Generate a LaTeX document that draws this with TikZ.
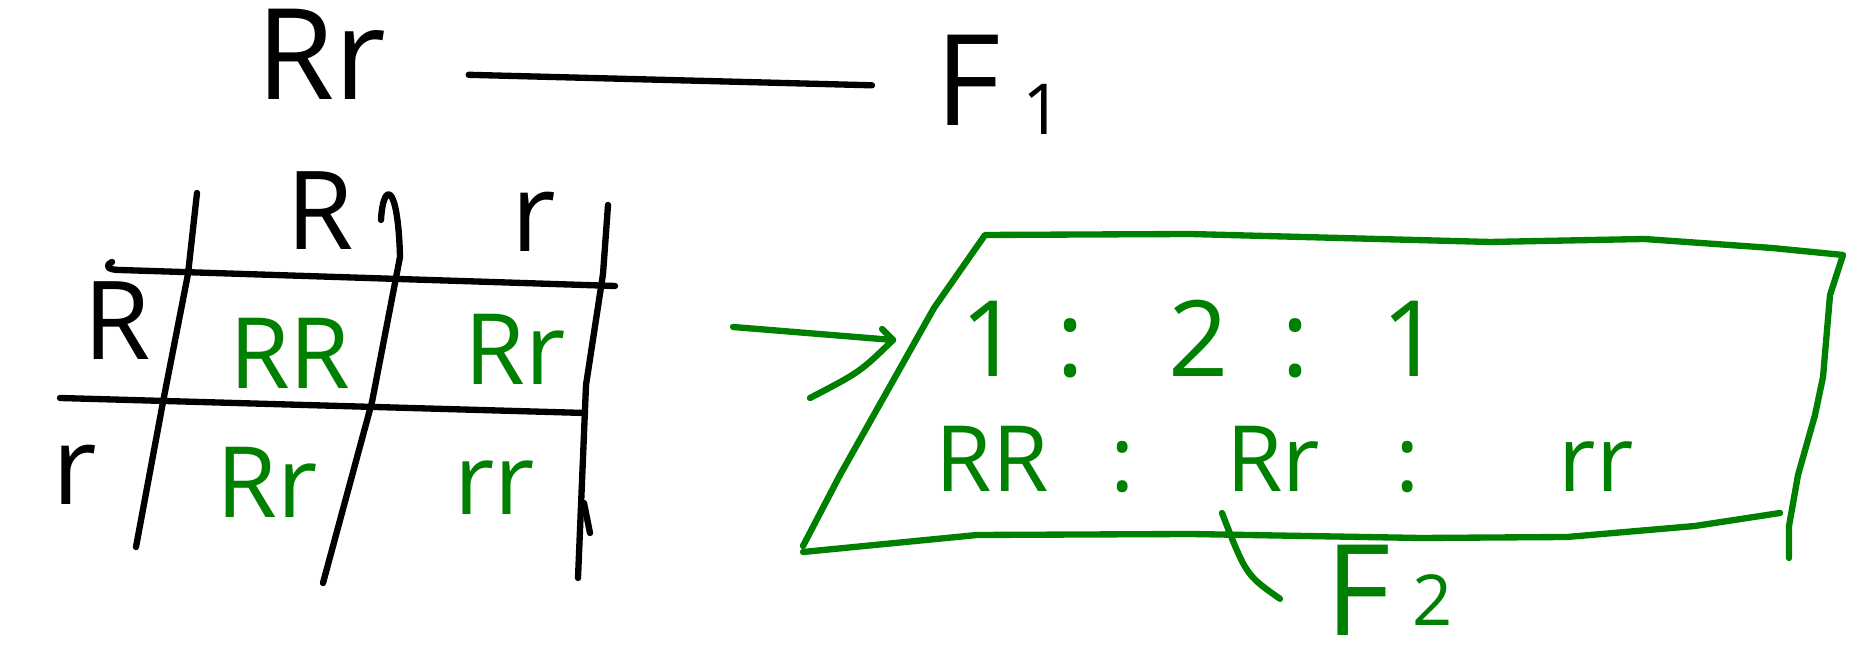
\documentclass[tikz,border=0pt]{standalone}
\usepackage{fontspec}
\setmainfont{Open Sans}
\usetikzlibrary{arrows.meta, positioning}
\definecolor{inkgreen}{RGB}{0,128,0}

\begin{document}
\begin{tikzpicture}[x=0.01cm, y=-0.01cm,
    ink/.style={line width=1.8pt, line cap=round, line join=round},
    gink/.style={ink, draw=inkgreen},
    txt/.style={inner sep=0pt, anchor=base},
    big/.style={txt, font=\fontsize{36}{40}\selectfont},
    head/.style={txt, font=\fontsize{31}{34}\selectfont},
    cell/.style={txt, text=inkgreen, font=\fontsize{28}{30}\selectfont},
    ratio/.style={txt, text=inkgreen, font=\fontsize{30}{32}\selectfont},
    geno/.style={txt, text=inkgreen, font=\fontsize{26}{28}\selectfont},
]
  \useasboundingbox (0,0) rectangle (1861,671);

  % Top: Rr gives F1
  \node[big] (parent) at (321,100) {Rr};
  \node[big, anchor=base west] (f1) at (935,126) {F\,\raisebox{-0.09cm}{\fontsize{20}{22}\selectfont 1}};
  \draw[ink] ([xshift=0.82cm, yshift=-0.2cm]parent.east) -- ([xshift=-0.63cm]f1.west);

  % Punnett square: gametes
  \node[head] (gR) at (320,250) {R};
  \node[head] (gr) at (534,252) {r};
  \node[head] (hR) at (117,360) {R};
  \node[head] (hr) at (75,505) {r};

  % grid lines
  \draw[ink] (197,193) -- (188,274) -- (163,402) -- (136,547);
  \draw[ink] (381,220) .. controls (383,182) and (398,180) .. (400,257) -- (372,402) -- (323,583);
  \draw[ink] (608,205) -- (603,274) -- (586,385) -- (578,578);
  \draw[ink] (584,503) -- (590,533);
  \draw[ink] (112,262) .. controls (104,266) and (108,270) .. (120,270) -- (615,286);
  \draw[ink] (60,398) -- (585,413);

  % offspring
  \node[cell] (c11) at (290,389) {RR};
  \node[cell] (c12) at (515,385) {Rr};
  \node[cell] (c21) at (267,518) {Rr};
  \node[cell] (c22) at (495,515) {rr};

  % arrow to the F2 box
  \coordinate (arrS) at (733,327);
  \coordinate (arrE) at (893,340);
  \draw[gink] (arrS) -- (arrE);
  \draw[gink] (882,329) -- (arrE) .. controls (860,372) .. (810,398);

  % F2 box
  \draw[gink] (803,546) -- (840,475) -- (934,308) -- (985,235) -- (1190,234) -- (1490,242)
    -- (1644,239) -- (1772,248) -- (1843,255) -- (1830,295) -- (1823,377) -- (1815,415)
    -- (1798,475) -- (1789,526) -- (1789,558);
  \draw[gink] (803,552) -- (977,535) -- (1190,534) -- (1421,538) -- (1567,537) -- (1695,526) -- (1780,513);

  \foreach \x/\t [count=\i] in {991/1, 1071/:, 1199/2, 1296/:, 1412/1}
    \node[ratio] (q\i) at (\x,377) {\t};
  \foreach \x/\t [count=\i] in {992/RR, 1123/:, 1273/Rr, 1408/:, 1596/rr}
    \node[geno] (g\i) at (\x,492) {\t};

  % F2 label
  \node[big, text=inkgreen, anchor=base west] (f2) at (1325,636) {F\,\raisebox{0.1cm}{\fontsize{20}{22}\selectfont 2}};
  \coordinate (ptr) at (1222,513);
  \draw[gink] (ptr) .. controls (1246,575) .. ([xshift=-0.45cm, yshift=-0.08cm]f2.west);
\end{tikzpicture}
\end{document}
